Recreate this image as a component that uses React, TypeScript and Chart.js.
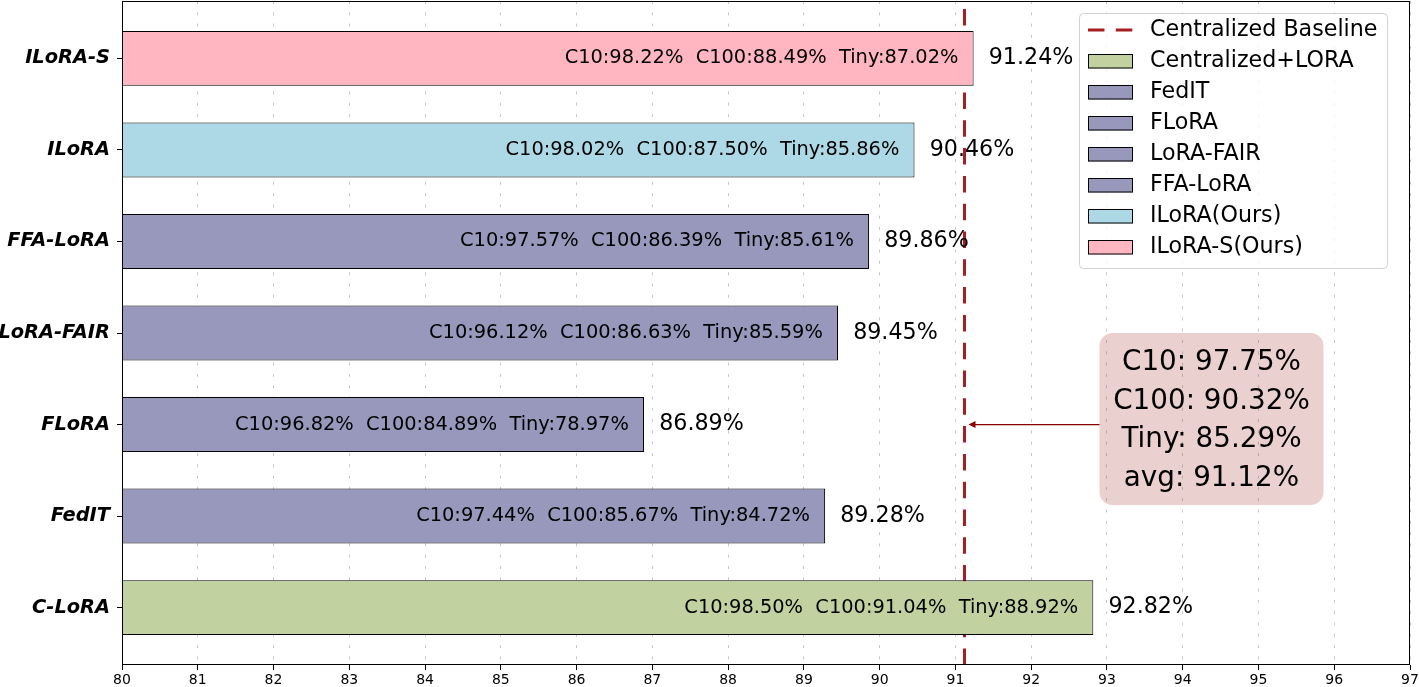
import React, { useEffect, useRef } from 'react';
import { Chart, registerables } from 'chart.js';

Chart.register(...registerables);

// ---------- data ----------
const categories = ['C-LoRA', 'FedIT', 'FLoRA', 'LoRA-FAIR', 'FFA-LoRA', 'ILoRA', 'ILoRA-S'];
const avgValues = [92.82, 89.28, 86.89, 89.45, 89.86, 90.46, 91.24];
const c10Values = [98.5, 97.44, 96.82, 96.12, 97.57, 98.02, 98.22];
const c100Values = [91.04, 85.67, 84.89, 86.63, 86.39, 87.5, 88.49];
const tinyValues = [88.92, 84.72, 78.97, 85.59, 85.61, 85.86, 87.02];
const legendLabels = ['Centralized+LORA', 'FedIT', 'FLoRA', 'LoRA-FAIR', 'FFA-LoRA', 'ILoRA(Ours)', 'ILoRA-S(Ours)'];
const baselineLabel = 'Centralized Baseline';
const baselineValue = 91.12;
const baselineBoxLines = ['C10: 97.75%', 'C100: 90.32%', 'Tiny: 85.29%', 'avg: 91.12%'];
const xMin = 80;
const xMax = 97;

// ---------- styles ----------
const FONT = 'DejaVu Sans';
const GREEN = '#C2D1A0';
const PURPLE = '#9898BC';
const BLUE = '#ADD8E6';
const PINK = '#FFB6C1';
const barColors = [GREEN, PURPLE, PURPLE, PURPLE, PURPLE, BLUE, PINK];
const BASE_COLOR = '#A51E22';
const BASE_DASH = [16.5, 11.3];

const overlayPlugin = {
  id: 'overlay',
  beforeDatasetsDraw(chart: any) {
    const { ctx, chartArea, scales } = chart;
    const bx = scales.x.getPixelForValue(baselineValue);
    ctx.save();
    ctx.strokeStyle = BASE_COLOR;
    ctx.lineWidth = 3;
    ctx.setLineDash(BASE_DASH);
    ctx.beginPath();
    ctx.moveTo(bx, chartArea.bottom);
    ctx.lineTo(bx, chartArea.top);
    ctx.stroke();
    ctx.restore();
  },
  afterDatasetsDraw(chart: any) {
    const { ctx, chartArea, scales } = chart;
    const xs = scales.x;
    const ys = scales.y;
    ctx.save();
    // bar labels
    for (let i = 0; i < categories.length; i++) {
      const yc = ys.getPixelForValue(i);
      ctx.fillStyle = '#000';
      ctx.textBaseline = 'middle';
      ctx.font = `19.4px "${FONT}"`;
      ctx.textAlign = 'right';
      const inner = `C10:${c10Values[i].toFixed(2)}%  C100:${c100Values[i].toFixed(2)}%  Tiny:${tinyValues[i].toFixed(2)}%`;
      ctx.fillText(inner, xs.getPixelForValue(avgValues[i] - 0.2), yc);
      ctx.font = `22.2px "${FONT}"`;
      ctx.textAlign = 'left';
      ctx.fillText(`${avgValues[i].toFixed(2)}%`, xs.getPixelForValue(avgValues[i] + 0.2), yc);
    }
    // frame
    ctx.strokeStyle = '#000';
    ctx.lineWidth = 1;
    ctx.setLineDash([]);
    const l = Math.round(chartArea.left) + 0.5;
    const t = Math.round(chartArea.top) + 0.5;
    const r = Math.round(chartArea.right) - 0.5;
    const b = Math.round(chartArea.bottom) - 0.5;
    ctx.strokeRect(l, t, r - l, b - t);

    // annotation box
    const bxc = xs.getPixelForValue(94.38);
    const byc = ys.getPixelForValue(2.06);
    const bw = 224;
    const bh = 172;
    ctx.fillStyle = 'rgba(165,42,42,0.22)';
    ctx.beginPath();
    ctx.roundRect(bxc - bw / 2, byc - bh / 2, bw, bh, 13);
    ctx.fill();
    ctx.fillStyle = '#000';
    ctx.font = `27.8px "${FONT}"`;
    ctx.textAlign = 'center';
    ctx.textBaseline = 'alphabetic';
    baselineBoxLines.forEach((s, k) => {
      ctx.fillText(s, bxc, byc + 9 + (k - 1.5) * 38.7);
    });
    // arrow
    const ay = ys.getPixelForValue(2);
    const tipX = xs.getPixelForValue(baselineValue) + 4;
    ctx.strokeStyle = '#8B0000';
    ctx.fillStyle = '#8B0000';
    ctx.lineWidth = 1.3;
    ctx.beginPath();
    ctx.moveTo(bxc - bw / 2, ay);
    ctx.lineTo(tipX + 6, ay);
    ctx.stroke();
    ctx.beginPath();
    ctx.moveTo(tipX, ay);
    ctx.lineTo(tipX + 7, ay - 3.5);
    ctx.lineTo(tipX + 7, ay + 3.5);
    ctx.closePath();
    ctx.fill();

    // legend
    const lx0 = chartArea.right - 331;
    const ly0 = chartArea.top + 12;
    ctx.fillStyle = 'rgba(255,255,255,0.8)';
    ctx.strokeStyle = 'rgba(204,204,204,0.9)';
    ctx.lineWidth = 1;
    ctx.beginPath();
    ctx.roundRect(lx0 + 0.5, ly0 + 0.5, 308, 255, 4);
    ctx.fill();
    ctx.stroke();
    const rowY = (k: number) => ly0 + 17 + 31 * k;
    const sx = lx0 + 9;
    const sw = 45;
    ctx.strokeStyle = BASE_COLOR;
    ctx.lineWidth = 3;
    ctx.setLineDash(BASE_DASH);
    ctx.beginPath();
    ctx.moveTo(sx, rowY(0));
    ctx.lineTo(sx + sw, rowY(0));
    ctx.stroke();
    ctx.setLineDash([]);
    ctx.font = `22.2px "${FONT}"`;
    ctx.textAlign = 'left';
    ctx.textBaseline = 'middle';
    ctx.fillStyle = '#000';
    ctx.fillText(baselineLabel, lx0 + 71, rowY(0));
    legendLabels.forEach((lab, k) => {
      const yy = rowY(k + 1);
      ctx.fillStyle = barColors[k];
      ctx.fillRect(sx, yy - 7, sw, 14.5);
      ctx.strokeStyle = '#000';
      ctx.lineWidth = 1;
      ctx.strokeRect(sx + 0.5, yy - 7 + 0.5, sw - 1, 14.5 - 1);
      ctx.fillStyle = '#000';
      ctx.fillText(lab, lx0 + 71, yy);
    });
    ctx.restore();
  },
};

export default function App() {
  const canvasRef = useRef<HTMLCanvasElement | null>(null);

  useEffect(() => {
    const canvas = canvasRef.current;
    if (!canvas) return;
    Chart.defaults.font.family = FONT;
    const chart = new Chart(canvas, {
      type: 'bar',
      data: {
        datasets: [
          {
            label: 'avg',
            data: avgValues.map((v, i) => ({ x: v, y: i })),
            backgroundColor: barColors,
            borderColor: '#000',
            borderWidth: 1,
            borderSkipped: false,
            categoryPercentage: 1,
            barPercentage: 0.6,
          } as any,
        ],
      },
      plugins: [overlayPlugin],
      options: {
        indexAxis: 'y',
        responsive: false,
        animation: false,
        events: [],
        layout: { padding: { left: 0, right: 9, top: 1, bottom: 0 } },
        plugins: {
          legend: { display: false },
          tooltip: { enabled: false },
        },
        scales: {
          x: {
            type: 'linear',
            min: xMin,
            max: xMax,
            offset: false,
            ticks: {
              stepSize: 1,
              color: '#000',
              font: { size: 14, family: FONT },
              padding: 2,
              maxRotation: 0,
              autoSkip: false,
            },
            grid: {
              offset: false,
              color: '#c8c8c8',
              lineWidth: 1,
              drawTicks: true,
              tickLength: 5,
              tickColor: '#000',
              tickWidth: 1,
            },
            border: { display: false, dash: [3, 8.3] },
            afterFit(scale: any) {
              scale.height = 35;
              scale.paddingLeft = 0;
              scale.paddingRight = 0;
            },
          } as any,
          y: {
            type: 'linear',
            min: -0.627,
            max: 6.627,
            offset: false,
            afterBuildTicks(scale: any) {
              scale.ticks = categories.map((_, i) => ({ value: i }));
            },
            ticks: {
              color: '#000',
              font: { size: 19.4, family: FONT, weight: 'bold', style: 'italic' },
              padding: 7,
              autoSkip: false,
              callback: (v: any) => categories[v as number] ?? '',
            },
            grid: {
              offset: false,
              drawOnChartArea: false,
              drawTicks: true,
              tickLength: 5,
              tickColor: '#000',
              tickWidth: 1,
            },
            border: { display: false },
            afterFit(scale: any) {
              scale.width = 122;
              scale.paddingTop = 0;
              scale.paddingBottom = 0;
            },
          } as any,
        },
      },
    });
    return () => chart.destroy();
  }, []);

  return (
    <div style={{ position: 'fixed', left: 0, top: 0, width: 1419, height: 700, background: '#fff' }}>
      <canvas ref={canvasRef} width={1419} height={700} style={{ display: 'block' }} />
    </div>
  );
}
